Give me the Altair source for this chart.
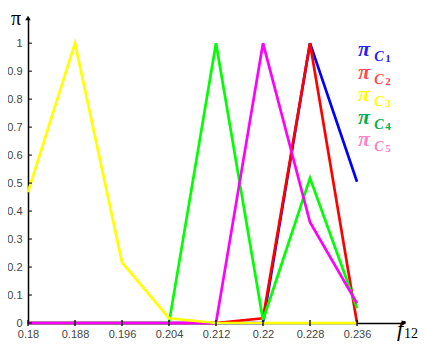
import altair as alt
import pandas as pd

x_values = [0.18, 0.188, 0.196, 0.204, 0.212, 0.22, 0.228, 0.236]
pi_c1 = [0, 0, 0, 0, 0, 0, 1, 0.505]
pi_c2 = [0, 0, 0, 0, 0, 0.017, 1, 0]
pi_c3 = [0.468, 1, 0.217, 0.017, 0, 0, 0, 0]
pi_c4 = [0, 0, 0, 0, 1, 0.01, 0.518, 0.053]
pi_c5 = [0, 0, 0, 0, 0, 1, 0.36, 0.07]

series_names = ["C1", "C2", "C3", "C4", "C5"]
subscripts = ["1", "2", "3", "4", "5"]
line_colors = ["#0000FF", "#FF0000", "#FFFF00", "#00FF00", "#FF00FF"]
legend_colors = ["#2424F0", "#FF4B4B", "#FFFF00", "#00B050", "#FF82C8"]
draw_order = [0, 1, 3, 4, 2]

x_ticks = [0.18, 0.188, 0.196, 0.204, 0.212, 0.22, 0.228, 0.236]
y_ticks = [0, 0.1, 0.2, 0.3, 0.4, 0.5, 0.6, 0.7, 0.8, 0.9, 1]

all_series = [pi_c1, pi_c2, pi_c3, pi_c4, pi_c5]
rows = []
for name, vals in zip(series_names, all_series):
    for xv, v in zip(x_values, vals):
        rows.append({"x": xv, "value": v, "series": name})
df = pd.DataFrame(rows)

W, H = 376, 305
xscale = alt.Scale(domain=[0.18, 0.244], nice=False, zero=False)
yscale = alt.Scale(domain=[0, 1.09], nice=False)

x_axis = alt.Axis(values=x_ticks, labelExpr="format(datum.value, '~g')",
                  ticks=False, labelPadding=5, grid=False,
                  labelColor="#444444", labelFontSize=11,
                  labelFont="Liberation Sans", domainColor="#000000",
                  domainWidth=1.5, labelFlush=False, labelOverlap=False)
y_axis = alt.Axis(values=y_ticks, labelExpr="format(datum.value, '~g')",
                  ticks=False, labelPadding=6, grid=False,
                  labelColor="#444444", labelFontSize=11,
                  labelFont="Liberation Sans", domainColor="#000000",
                  domainWidth=1.5, labelOverlap=False)
x_enc = alt.X("x:Q", scale=xscale, title=None, axis=x_axis)
y_enc = alt.Y("value:Q", scale=yscale, title=None, axis=y_axis)
color_enc = alt.Color("series:N", scale=alt.Scale(domain=series_names, range=line_colors), legend=None)

layers = []
for i in draw_order:
    layers.append(
        alt.Chart(df).transform_filter(alt.datum.series == series_names[i])
        .mark_line(strokeWidth=2.7)
        .encode(x=x_enc, y=y_enc, color=color_enc)
    )

# tick marks
xt = pd.DataFrame({"x": x_ticks})
layers.append(alt.Chart(xt).mark_rule(color="#000000", strokeWidth=1.3).encode(
    x=x_enc, y=alt.value(H - 3), y2=alt.value(H + 3)))
yt = pd.DataFrame({"value": y_ticks})
layers.append(alt.Chart(yt).mark_rule(color="#000000", strokeWidth=1).encode(
    y=y_enc, x=alt.value(0), x2=alt.value(4)))

# arrow heads
one = pd.DataFrame({"a": [0]})
layers.append(alt.Chart(one).mark_point(shape="triangle-right", filled=True, color="#000000", size=30, opacity=1).encode(
    x=alt.value(W), y=alt.value(H)))
layers.append(alt.Chart(one).mark_point(shape="triangle-up", filled=True, color="#000000", size=30, opacity=1).encode(
    x=alt.value(0), y=alt.value(0)))

# axis titles
layers.append(alt.Chart(pd.DataFrame({"t": ["π"]})).mark_text(
    font="Liberation Serif", fontSize=20, color="#000000").encode(
    text="t:N", x=alt.value(-12), y=alt.value(1)))
layers.append(alt.Chart(pd.DataFrame({"t": ["f"]})).mark_text(
    font="Liberation Serif", fontStyle="italic", fontSize=22, color="#000000").encode(
    text="t:N", x=alt.value(372), y=alt.value(311)))
layers.append(alt.Chart(pd.DataFrame({"t": ["12"]})).mark_text(
    font="Liberation Serif", fontSize=14, color="#000000", align="left").encode(
    text="t:N", x=alt.value(376), y=alt.value(316)))

# legend
for k in range(5):
    base_y = 31 + 22.5 * k
    col = legend_colors[k]
    layers.append(alt.Chart(pd.DataFrame({"t": ["π"]})).mark_text(
        font="Liberation Serif", fontWeight="bold", fontStyle="italic", fontSize=22, color=col).encode(
        text="t:N", x=alt.value(336), y=alt.value(base_y)))
    layers.append(alt.Chart(pd.DataFrame({"t": ["C"]})).mark_text(
        font="Liberation Serif", fontWeight="bold", fontStyle="italic", fontSize=14, color=col).encode(
        text="t:N", x=alt.value(351), y=alt.value(base_y + 8)))
    layers.append(alt.Chart(pd.DataFrame({"t": [subscripts[k]]})).mark_text(
        font="Liberation Serif", fontWeight="bold", fontSize=11, color=col).encode(
        text="t:N", x=alt.value(360), y=alt.value(base_y + 10)))

chart = alt.layer(*layers).properties(
    width=W, height=H,
    padding={"left": 20, "top": 10, "right": 17, "bottom": 18},
    autosize=alt.AutoSizeParams(type="none"),
).configure_view(stroke=None)

chart.save("out.html", embed_options={"renderer": "svg", "actions": False})
